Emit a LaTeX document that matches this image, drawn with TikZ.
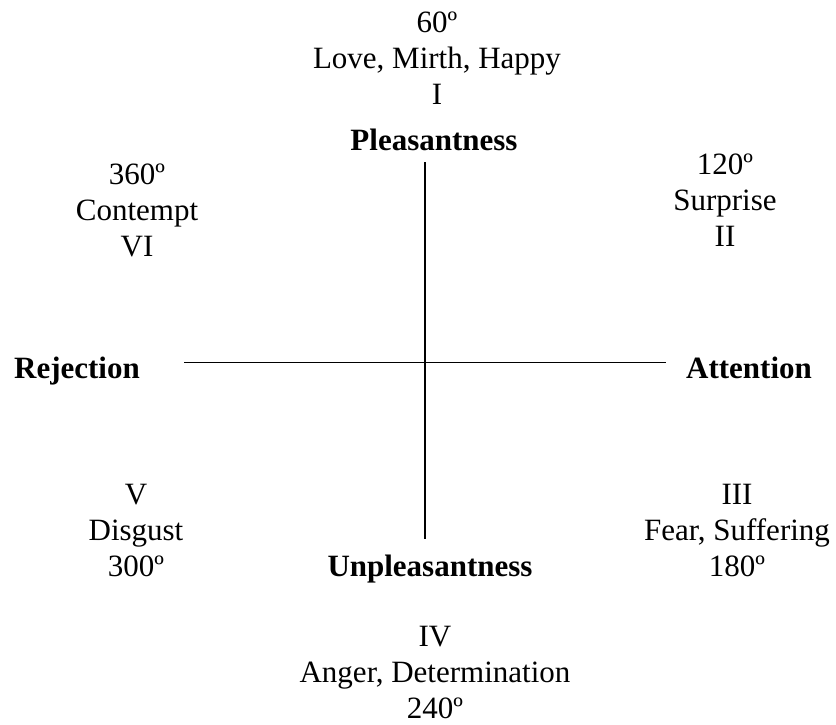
\documentclass[tikz,border=0pt]{standalone}
\usepackage{fontspec}
\setmainfont{Liberation Serif}
\usetikzlibrary{positioning}

\begin{document}
\begin{tikzpicture}[x=1pt, y=-1pt,
  lbl/.style={align=center, inner sep=0pt, anchor=north,
              font=\fontsize{31}{36}\selectfont},
  axname/.style={inner sep=0pt, anchor=base,
              font=\fontsize{31}{36}\selectfont\bfseries},
  axis/.style={line width=1.8pt, draw=black}
]
\useasboundingbox (0,0) rectangle (836,725);

% the two axes
\coordinate (vtop) at (425,162);
\coordinate (vbot) at (425,539);
\coordinate (hleft) at (184,362.5);
\coordinate (hright) at (666,362.5);
\draw[axis] (vtop) -- (vbot);
\draw[axis] (hleft) -- (hright);

% axis names
\node[axname] (pleas) at (434,150) {Pleasantness};
\node[axname] (unpleas) at (430,576) {Unpleasantness};
\node[axname] (reject) at (77,378) {Rejection};
\node[axname] (attend) at (749,378) {Attention};

% the six sectors
\node[lbl] (quadI) at (437,12) {60º\\Love, Mirth, Happy\\I};
\node[lbl] (quadII) at (725,154) {120º\\Surprise\\II};
\node[lbl] (quadIII) at (737,484) {III\\Fear, Suffering\\180º};
\node[lbl] (quadIV) at (435,626) {IV\\Anger, Determination\\240º};
\node[lbl] (quadV) at (136,484) {V\\Disgust\\300º};
\node[lbl] (quadVI) at (137,164) {360º\\Contempt\\VI};
\end{tikzpicture}
\end{document}
